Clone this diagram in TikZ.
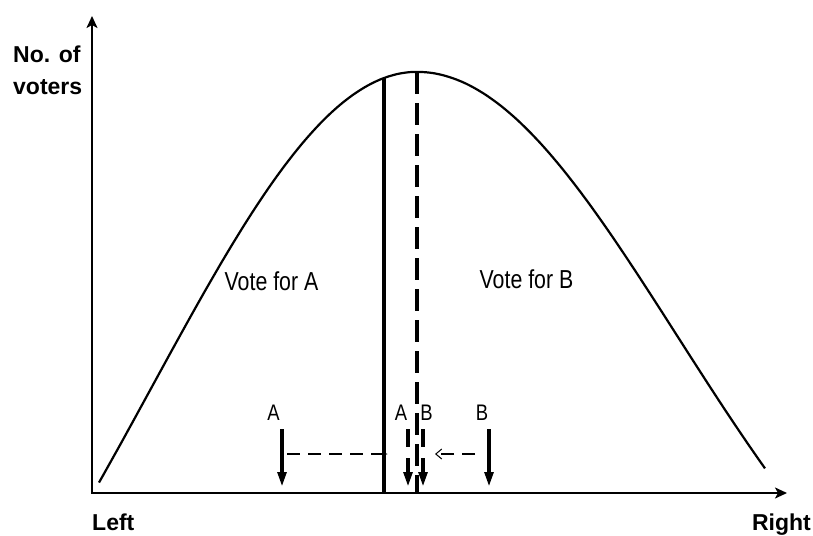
\documentclass[tikz,border=0pt]{standalone}
\usepackage{fontspec}
\setmainfont{Liberation Sans}
\newfontfamily\thinfont[FakeStretch=0.82]{Liberation Sans}
\usetikzlibrary{arrows.meta}
\begin{document}
\begin{tikzpicture}[x=1pt,y=-1pt,
    axisline/.style={line width=2pt,{Stealth[length=12pt,width=11pt,inset=3pt]}-{Stealth[length=12pt,width=11pt,inset=3pt]}},
    median/.style={line width=4.7pt},
    pointer/.style={line width=4.7pt,-{Triangle[length=15pt,width=8.5pt]}},
    drift/.style={line width=1.3pt,dash pattern=on 13pt off 8pt},
    lbl/.style={inner sep=0pt,anchor=base,font=\thinfont\fontsize{26}{30}\selectfont},
    partylbl/.style={inner sep=0pt,anchor=base,font=\thinfont\fontsize{22.5}{26}\selectfont},
    axlbl/.style={inner sep=0pt,font=\bfseries\fontsize{23}{32}\selectfont}]
    \useasboundingbox (0,0) rectangle (813,535);
    % axes
    \coordinate (O) at (92,493);
    \coordinate (ytop) at (92,16);
    \coordinate (xend) at (787,493);
    \draw[axisline] (ytop) -- (O) -- (xend);
    % distribution of voters
    \draw[line width=2.2pt] plot[domain=99:417,samples=80]
        (\x,{72+800*(1-exp(-((\x-417)/100)^2/14.045))})
        -- plot[domain=417:765,samples=80]
        (\x,{72+670*(1-exp(-((\x-417)/100)^2/13.52))});
    % median voter lines
    \coordinate (midA) at (384,78);
    \coordinate (peak) at (417,72);
    \draw[median] (midA) -- (midA |- O);
    \draw[median,dash pattern=on 22pt off 9pt] (peak) -- (peak |- O);
    % parties before and after
    \coordinate (A1) at (282,429);
    \coordinate (B1) at (489,429);
    \coordinate (A2) at (408,429);
    \coordinate (B2) at (423,429);
    \draw[pointer] (A1) -- ++(0,58);
    \draw[pointer] (B1) -- ++(0,58);
    \draw[pointer,dash pattern=on 18pt off 11pt] (A2) -- ++(0,58);
    \draw[pointer,dash pattern=on 18pt off 11pt] (B2) -- ++(0,58);
    % moves to the centre
    \coordinate (mA) at (287,454);
    \coordinate (mB) at (475,454);
    \draw[drift,-{Latex[length=5pt,width=4.5pt]}] (mA) -- (388,454);
    \draw[drift,-{Straight Barb[length=6pt,width=10pt,line width=1pt]}] (mB) -- (435,454);
    % labels
    \node[lbl] (voteA) at (271.5,290) {Vote for A};
    \node[lbl] (voteB) at (526.5,288) {Vote for B};
    \node[partylbl] (labA) at (273.5,420) {A};
    \node[partylbl] (labA2) at (401,420) {A};
    \node[partylbl] (labB2) at (426.5,420) {B};
    \node[partylbl] (labB) at (482,420) {B};
    \node[axlbl,anchor=base west] (left) at (92,530) {Left};
    \node[axlbl,anchor=base east] (right) at (811,530) {Right};
    \node[axlbl,align=left,anchor=north west] (voters) at (13,46) {No. of\\voters};
\end{tikzpicture}
\end{document}
